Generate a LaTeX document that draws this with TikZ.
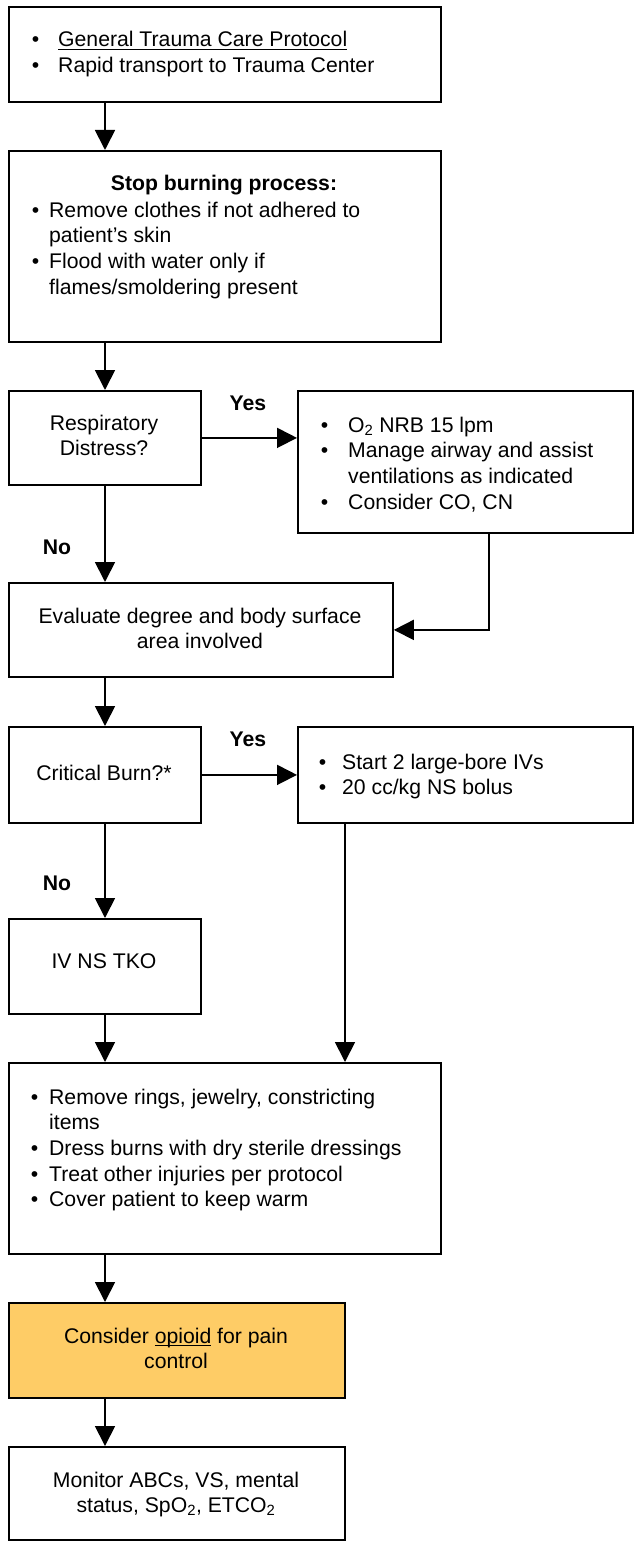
\documentclass[tikz,border=0pt]{standalone}
\usepackage{fontspec}
\setmainfont{Liberation Sans}
\usetikzlibrary{arrows.meta}
\definecolor{orangefill}{HTML}{FECC66}
\newcommand\fs{\fontsize{21.2pt}{25.7pt}\selectfont}
\newcommand\bl[1]{\leavevmode\llap{\textbullet\hspace{#1}}}
\newsavebox\ulbox
\newcommand\myul[1]{\sbox\ulbox{#1}\leavevmode\rlap{\rule[-3pt]{\wd\ulbox}{1.1pt}}\usebox\ulbox}
\newcommand\subtwo{\textsubscript{2}}
\begin{document}
\begin{tikzpicture}[x=1pt,y=-1pt,
  box/.style={draw=black, line width=1.8pt, anchor=north west, inner sep=0pt},
  arr/.style={line width=1.8pt, -{Triangle[length=20pt,width=20pt]}},
  txt/.style={anchor=base west, inner sep=0pt, font=\fs},
  ctxt/.style={anchor=base, inner sep=0pt, font=\fs},
  lbl/.style={anchor=base, inner sep=0pt, font=\fs\bfseries}]
\useasboundingbox (0,0) rectangle (634,1541);
% boxes
\node[box, minimum width=432pt, minimum height=95pt] (b1) at (8,6) {};
\node[box, minimum width=432pt, minimum height=191pt] (b2) at (8,150) {};
\node[box, minimum width=192pt, minimum height=94pt] (b3) at (8,390) {};
\node[box, minimum width=335pt, minimum height=142pt] (b4) at (297,390) {};
\node[box, minimum width=384pt, minimum height=94pt] (b5) at (8,582) {};
\node[box, minimum width=192pt, minimum height=96pt] (b6) at (8,726) {};
\node[box, minimum width=335pt, minimum height=96pt] (b7) at (297,726) {};
\node[box, minimum width=192pt, minimum height=95pt] (b8) at (8,918) {};
\node[box, minimum width=432pt, minimum height=191pt] (b9) at (8,1062) {};
\node[box, fill=orangefill, minimum width=336pt, minimum height=95pt] (b10) at (8,1302) {};
\node[box, minimum width=336pt, minimum height=93pt] (b11) at (8,1446) {};
% texts
\node[txt] (t1) at (58,47) {\parbox[t]{370pt}{\raggedright\bl{19pt}\myul{General Trauma Care Protocol}\\\bl{19pt}Rapid transport to Trauma Center}};
\node[ctxt] (t2h) at (224,191) {\textbf{Stop burning process:}};
\node[txt] (t2) at (49,217) {\parbox[t]{380pt}{\raggedright\bl{10pt}Remove clothes if not adhered to\\patient’s skin\\\bl{10pt}Flood with water only if\\flames/smoldering present}};
\node[ctxt] (t3) at (104,430) {\parbox[t]{180pt}{\centering Respiratory\\Distress?}};
\node[txt] (t4) at (348,432) {\parbox[t]{275pt}{\raggedright\bl{20pt}O\subtwo{} NRB 15 lpm\\\bl{20pt}Manage airway and assist\\ventilations as indicated\\\bl{20pt}Consider CO, CN}};
\node[ctxt] (t5) at (200,623) {\parbox[t]{370pt}{\centering Evaluate degree and body surface\\area involved}};
\node[ctxt] (t6) at (104,780) {Critical Burn?*};
\node[txt] (t7) at (342,769) {\parbox[t]{280pt}{\raggedright\bl{16pt}Start 2 large-bore IVs\\\bl{16pt}20 cc/kg NS bolus}};
\node[ctxt] (t8) at (104,968) {IV NS TKO};
\node[txt] (t9) at (49,1104) {\parbox[t]{385pt}{\raggedright\bl{11pt}Remove rings, jewelry, constricting\\items\\\bl{11pt}Dress burns with dry sterile dressings\\\bl{11pt}Treat other injuries per protocol\\\bl{11pt}Cover patient to keep warm}};
\node[ctxt] (t10) at (176,1343) {\parbox[t]{320pt}{\centering Consider \myul{opioid} for pain\\control}};
\node[ctxt] (t11) at (176,1487) {\parbox[t]{320pt}{\centering Monitor ABCs, VS, mental\\status, SpO\subtwo, ETCO\subtwo}};
% labels
\node[lbl] (yes1) at (248,410) {Yes};
\node[lbl] (no1) at (57,554) {No};
\node[lbl] (yes2) at (248,746) {Yes};
\node[lbl] (no2) at (57,890) {No};
% connectors
\coordinate (ax) at (105,0);
\coordinate (rx4) at (489,0);
\coordinate (rx7) at (345,0);
\draw[arr] (b1.south -| ax) -- (b2.north -| ax);
\draw[arr] (b2.south -| ax) -- (b3.north -| ax);
\draw[arr] (b3.east) -- (b3.east -| b4.west);
\draw[arr] (b3.south -| ax) -- (b5.north -| ax);
\draw[arr] (b4.south -| rx4) |- (b5.east);
\draw[arr] (b5.south -| ax) -- (b6.north -| ax);
\draw[arr] (b6.east) -- (b6.east -| b7.west);
\draw[arr] (b6.south -| ax) -- (b8.north -| ax);
\draw[arr] (b7.south -| rx7) -- (b9.north -| rx7);
\draw[arr] (b8.south -| ax) -- (b9.north -| ax);
\draw[arr] (b9.south -| ax) -- (b10.north -| ax);
\draw[arr] (b10.south -| ax) -- (b11.north -| ax);
\end{tikzpicture}
\end{document}
